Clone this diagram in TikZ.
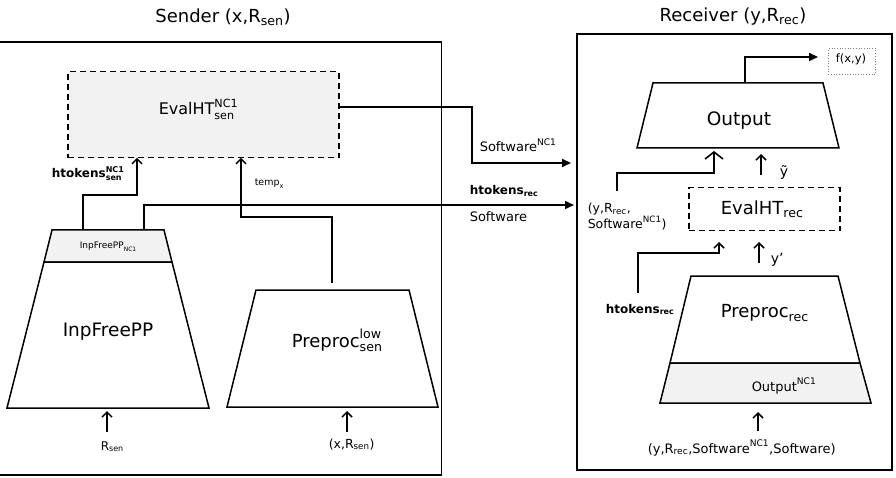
\documentclass[tikz,border=0pt]{standalone}
\usepackage{amsmath}
\usepackage{fontspec}
\setmainfont{DejaVu Sans}
\usetikzlibrary{arrows.meta}
\definecolor{boxgray}{HTML}{F2F2F2}
\newcommand{\fs}[1]{\fontsize{#1}{#1}\selectfont}
\newcommand{\SB}[2]{$\text{#1}_{\text{#2}}$}
\newcommand{\SP}[2]{$\text{#1}^{\text{#2}}$}
\newcommand{\SBP}[3]{$\text{#1}_{\text{#2}}^{\text{#3}}$}
\begin{document}
\begin{tikzpicture}[x=1pt,y=-1pt,line width=1.5pt,
  txt/.style={inner sep=0pt,anchor=base west},
  up/.style={-{Straight Barb[length=5pt,width=10pt,line width=1.5pt]}},
  bigup/.style={-{Straight Barb[length=7pt,width=18pt,line width=1.6pt]}},
  right/.style={-{Triangle[length=9pt,width=8pt]}},
  dbox/.style={draw,dash pattern=on 6pt off 4pt}]
\useasboundingbox (0,0) rectangle (896,478);
% frames
\draw[line width=1.6pt] (-3,42) rectangle (441.5,475);
\draw[line width=1.6pt] (577,34) rectangle (892,470);
\node[inner sep=0pt] (tsen) at (223,17) {\fs{18}Sender (x,\SB{R}{sen})};
\node[inner sep=0pt] (trec) at (733,17) {\fs{18}Receiver (y,\SB{R}{rec})};
% sender shapes
\node[dbox,fill=boxgray,anchor=north west,minimum width=271pt,minimum height=86pt,inner sep=0pt] (evs) at (67,71) {};
\node[txt] (evst) at (158,115) {\fs{16}\SBP{EvalHT}{sen}{NC1}};
\draw[fill=boxgray] (52,230) -- (164,230) -- (172,262) -- (44,262) -- cycle;
\node[txt] (inpnc) at (79,249) {\fs{9}\SB{InpFreePP}{NC1}};
\draw (44,262) -- (172,262) -- (209,408) -- (7,408) -- cycle;
\node[txt] (inp) at (62,336) {\fs{18.5}InpFreePP};
\draw (256,290) -- (409,290) -- (438,407) -- (227,407) -- cycle;
\node[txt] (pps) at (291,347) {\fs{18}\SBP{Preproc}{sen}{low}};
% sender labels
\node[txt] (hts) at (51,178) {\fs{12}\bfseries\SBP{htokens}{sen}{NC1}};
\node[txt] (tmp) at (254,186) {\fs{9.5}\SB{temp}{x}};
\node[txt] (rsen) at (100,450) {\fs{12}\SB{R}{sen}};
\node[txt] (xrsen) at (328,448) {\fs{12.5}(x,\SB{R}{sen})};
% middle labels
\node[txt] (swnc) at (479,152) {\fs{13}\SP{Software}{NC1}};
\node[txt] (htr) at (469,195) {\fs{12}\bfseries\SB{htokens}{rec}};
\node[txt] (sw) at (469,222) {\fs{13}Software};
% receiver shapes
\draw (653,83) -- (823,83) -- (839,148) -- (637,148) -- cycle;
\node[txt] (out) at (706,126) {\fs{18.5}Output};
\node[draw,dotted,line width=0.7pt,draw=gray,anchor=north west,minimum width=47pt,minimum height=26pt,inner sep=0pt] (fbox) at (828,48) {};
\node[txt] (fxy) at (835,63) {\fs{11.5}f(x,y)};
\node[dbox,anchor=north west,minimum width=151pt,minimum height=43pt,inner sep=0pt] (evr) at (688,187) {};
\node[txt] (evrt) at (720,215) {\fs{18}\SB{EvalHT}{rec}};
\draw[fill=boxgray] (670,363) -- (860,363) -- (871,403) -- (660,403) -- cycle;
\draw (691,276) -- (838,276) -- (860,363) -- (670,363) -- cycle;
\node[txt] (ppr) at (720,317) {\fs{18}\SB{Preproc}{rec}};
\node[txt] (outnc) at (751,391) {\fs{13}\SP{Output}{NC1}};
% receiver labels
\node[txt] (yt) at (779,177) {\fs{14}ỹ};
\node[txt] (yrec1) at (587,213) {\fs{12.5}(y,\SB{R}{rec},};
\node[txt] (yrec2) at (587,229) {\fs{12.5}\SP{Software}{NC1})};
\node[txt] (yp) at (770,263) {\fs{14}y'};
\node[txt] (htr2) at (605,313) {\fs{12}\bfseries\SB{htokens}{rec}};
\node[txt] (inrec) at (647,453) {\fs{13}(y,\SB{R}{rec},\SP{Software}{NC1},Software)};
% coordinates
\coordinate (a1) at (83,230); \coordinate (a2) at (137,157.8);
\coordinate (b1) at (332,283); \coordinate (b2) at (241,157.8);
\coordinate (c1) at (144,230); \coordinate (c2) at (574,205);
\coordinate (d1) at (338.5,107); \coordinate (d2) at (571,163);
\coordinate (e1) at (745,83); \coordinate (e2) at (818,57);
\coordinate (f1) at (761,175); \coordinate (f2) at (761,154);
\coordinate (g1) at (617,191); \coordinate (g2) at (714,151);
\coordinate (h1) at (759,263); \coordinate (h2) at (759,242);
\coordinate (i1) at (638,293); \coordinate (i2) at (719,242);
\coordinate (j1) at (758,431); \coordinate (j2) at (758,412);
\coordinate (k1) at (107,432); \coordinate (k2) at (107,411);
\coordinate (l1) at (347,432); \coordinate (l2) at (347,411);
% connectors
\draw[up] (a1) -- (a1 |- 0,195) -- (a2 |- 0,195) -- (a2);
\draw[up] (b1) -- (b1 |- 0,217) -- (b2 |- 0,217) -- (b2);
\draw[right] (c1) -- (c1 |- c2) -- (c2);
\draw[right,line width=2pt] (d1) -- (472,107) -- (472,163) -- (d2);
\draw[right] (e1) -- (e1 |- e2) -- (e2);
\draw[up] (f1) -- (f2);
\draw[bigup] (g1) -- (g1 |- 0,173) -- (g2 |- 0,173) -- (g2);
\draw[up] (h1) -- (h2);
\draw[up] (i1) -- (i1 |- 0,253) -- (i2 |- 0,253) -- (i2);
\draw[up] (j1) -- (j2);
\draw[up] (k1) -- (k2);
\draw[up] (l1) -- (l2);
\end{tikzpicture}
\end{document}
